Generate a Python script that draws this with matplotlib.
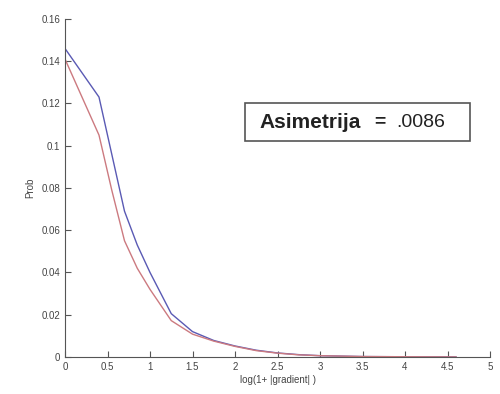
import matplotlib
matplotlib.use('Agg')
import matplotlib.pyplot as plt
from matplotlib.patches import Rectangle
import numpy as np

plt.rcParams['font.family'] = ['Liberation Sans', 'DejaVu Sans']

# log(1+|gradient|) sample points and the two probability curves
x = [0, 0.4, 0.55, 0.7, 0.85, 1.0, 1.25, 1.5, 1.75, 2.0, 2.25, 2.5, 2.75, 3.0, 3.5, 4.0, 4.6]
blue = [0.146, 0.123, 0.096, 0.069, 0.053, 0.040, 0.0205, 0.012, 0.0078, 0.0052, 0.0032, 0.0019, 0.0011, 0.0006, 0.0002, 0.0001, 0.0]
red = [0.141, 0.105, 0.079, 0.055, 0.042, 0.032, 0.0172, 0.0108, 0.0075, 0.005, 0.003, 0.0018, 0.001, 0.0006, 0.0002, 0.0001, 0.0]

xticks = np.arange(0, 5.01, 0.5)
xticklabels = ['0', '0.5', '1', '1.5', '2', '2.5', '3', '3.5', '4', '4.5', '5']
yticks = np.arange(0, 0.161, 0.02)
yticklabels = ['0', '0.02', '0.04', '0.06', '0.08', '0.1', '0.12', '0.14', '0.16']

fig = plt.figure(figsize=(5, 3.94), dpi=100)
ax = fig.add_axes([0.13, 0.094, 0.85, 0.858])
ax.plot(x, blue, color='#5a5ab4', lw=1.0)
ax.plot(x, red, color='#cc7a80', lw=1.0)

ax.set_xlim(0, 5)
ax.set_ylim(0, 0.16)
ax.set_xticks(xticks)
ax.set_xticklabels(xticklabels)
ax.set_yticks(yticks)
ax.set_yticklabels(yticklabels)
for s in ['top', 'right']:
    ax.spines[s].set_visible(False)
for s in ['left', 'bottom']:
    ax.spines[s].set_color('#555555')
ax.tick_params(direction='in', length=4, colors='#555555', labelsize=7, labelcolor='#444444')
ax.set_xlabel('log(1+ |gradient| )', fontsize=7, color='#444444', labelpad=2)
ax.set_ylabel('Prob', fontsize=7, color='#444444', labelpad=4)

# annotation box
fig.patches.append(Rectangle((0.49, 0.642), 0.45, 0.096, transform=fig.transFigure,
                             fc='white', ec='#555555', lw=1.2, zorder=5))
fig.text(0.518, 0.69, 'Asimetrija', fontsize=15, fontweight='bold', color='#222222',
         va='center', ha='left', zorder=6)
fig.text(0.748, 0.69, '=', fontsize=14, fontweight='bold', color='#222222',
         va='center', ha='left', zorder=6)
fig.text(0.792, 0.69, '.0086', fontsize=14, color='#222222', va='center', ha='left', zorder=6)

fig.savefig('out.png', dpi=100)
